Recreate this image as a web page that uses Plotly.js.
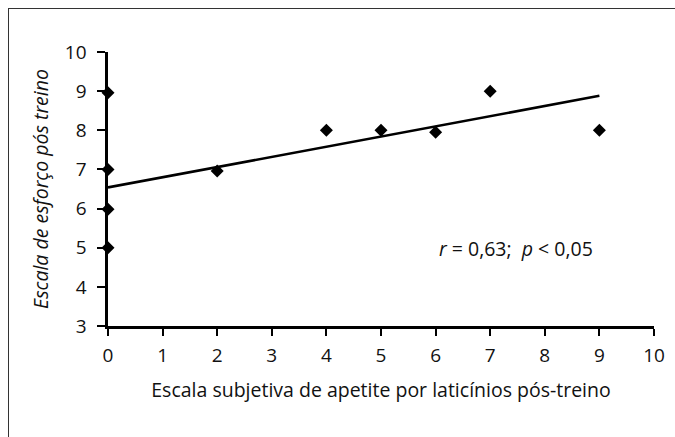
<!DOCTYPE html>
<html>
<head>
<meta charset="utf-8">
<script src="https://cdn.plot.ly/plotly-3.0.1.min.js"></script>
<style>
  html, body { margin: 0; padding: 0; background: #fff; }
  #wrap { position: relative; width: 675px; height: 437px; overflow: hidden; }
  #frame { position: absolute; left: 8px; top: 8px; width: 700px; height: 500px;
           border-left: 1.5px solid #333; border-top: 1.5px solid #333; pointer-events: none; }
  #chart { position: absolute; left: 0; top: 0; width: 675px; height: 437px; }
</style>
</head>
<body>
<div id="wrap">
  <div id="chart"></div>
  <div id="frame"></div>
</div>
<script>
// Data
const appetite = [0, 0, 0, 0, 2, 4, 5, 6, 7, 9];
const effort   = [8.96, 7, 5.98, 5, 6.96, 8, 8, 7.95, 9, 8];
const trendX = [0, 9];
const trendY = [6.54, 8.88];
const xTicks = [0, 1, 2, 3, 4, 5, 6, 7, 8, 9, 10];
const yTicks = [3, 4, 5, 6, 7, 8, 9, 10];
const xTitle = 'Escala subjetiva de apetite por laticínios pós-treino';
const yTitle = 'Escala de esforço pós treino';
const statText = '<i>r</i> = 0,63;&nbsp; <i>p</i> &lt; 0,05';

const FONT = '"Open Sans", "Noto Sans", sans-serif';
const TICK_FS = 19;
const TITLE_FS = 19.5;

const traces = [
  {
    x: trendX, y: trendY, type: 'scatter', mode: 'lines',
    line: { color: '#000', width: 2.6 }, hoverinfo: 'skip', showlegend: false
  },
  {
    x: appetite, y: effort, type: 'scatter', mode: 'markers',
    marker: { symbol: 'diamond', size: 10, color: '#000' }, showlegend: false, cliponaxis: false
  }
];

const layout = {
  width: 675, height: 437,
  margin: { l: 108, r: 21, t: 52, b: 111 },
  paper_bgcolor: '#fff', plot_bgcolor: '#fff',
  font: { family: FONT, size: TICK_FS, color: '#111' },
  showlegend: false,
  xaxis: {
    range: [0, 10], tickvals: xTicks, ticktext: xTicks.map(String),
    showgrid: false, zeroline: false,
    showline: true, linecolor: '#000', linewidth: 2.6,
    ticks: 'outside', ticklen: 7, tickwidth: 2, tickcolor: '#000',
    ticklabelstandoff: 4,
    tickfont: { family: FONT, size: TICK_FS, color: '#111' },
    title: { text: xTitle, standoff: 16, font: { family: FONT, size: TITLE_FS, color: '#111' } },
    fixedrange: true
  },
  yaxis: {
    range: [3, 10], tickvals: yTicks, ticktext: yTicks.map(String),
    showgrid: false, zeroline: false,
    showline: true, linecolor: '#000', linewidth: 2.6,
    ticks: 'outside', ticklen: 8, tickwidth: 2, tickcolor: '#000',
    ticklabelstandoff: 7,
    tickfont: { family: FONT, size: TICK_FS, color: '#111' },
    title: { text: yTitle, standoff: 11, font: { family: FONT, size: TITLE_FS, color: '#111', style: 'italic' } },
    fixedrange: true
  },
  annotations: [
    {
      x: 7.48, y: 4.98, xref: 'x', yref: 'y', text: statText, showarrow: false,
      xanchor: 'center', yanchor: 'middle',
      font: { family: FONT, size: TITLE_FS, color: '#111' }
    }
  ]
};

Plotly.newPlot('chart', traces, layout, { staticPlot: true, displayModeBar: false });
</script>
</body>
</html>
